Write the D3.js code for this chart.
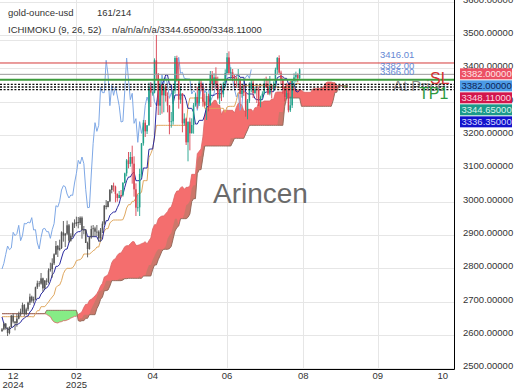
<!DOCTYPE html>
<html><head><meta charset="utf-8">
<script src="https://cdn.jsdelivr.net/npm/d3@7"></script>
<style>
html,body{margin:0;padding:0;background:#fff;}
svg{display:block;font-family:"Liberation Sans",Arial,sans-serif;}
</style></head><body>
<svg id="c" width="520" height="390"></svg>
<script>
// ---------------- DATA ----------------
const openP = [2612,2617,2634,2621,2606,2624,2658,2640,2636,2649,
2662,2670,2690,2663,2677,2697,2715,2703,2708,2743,
2755,2754,2770,2740,2763,2760,2794,2798,2815,2842,
2867,2856,2861,2908,2898,2904,2929,2883,2898,2935,
2933,2939,2936,2952,2915,2916,2876,2858,2893,2918,
2920,2910,2910,2890,2916,2934,2988,2984,3001,3035,
3048,3045,3023,3011,3020,3019,3056,3085,3124,3113,
3134,3114,3037,2982,2983,3083,3175,3237,3211,3229,
3343,3327,3327,3424,3381,3288,3349,3319,3345,3317,
3288,3239,3241,3333,3431,3366,3306,3325,3235,3249,
3178,3240,3205,3230,3289,3314,3295,3357,3342,3300,
3288,3317,3289,3381,3353,3373,3352,3310,3326,3322,
3355,3386,3433,3385,3388,3370,3369,3368,3368,3323,
3333,3327,3274,3303,3338,3357,3326,3337,3336,3301,
3313,3324,3355,3343,3324,3347,3338,3350,3396,3431,
3387,3368,3337,3314,3326,3274,3289,3363,3373,3380,
3370];
const highP = [2621,2638,2636,2623,2626,2660,2665,2642,2664,2670,
2679,2697,2693,2682,2700,2724,2718,2715,2745,2763,
2762,2786,2772,2765,2770,2800,2817,2830,2845,2882,
2870,2886,2911,2942,2906,2943,2933,2905,2938,2947,
2955,2954,2956,2956,2927,2918,2880,2895,2928,2930,
2925,2930,2914,2921,2941,2990,3005,3002,3038,3050,
3057,3048,3025,3032,3035,3059,3087,3128,3149,3149,
3168,3136,3055,3021,3099,3176,3245,3245,3230,3357,
3358,3331,3430,3500,3386,3367,3352,3351,3353,3328,
3290,3269,3335,3437,3438,3414,3345,3325,3265,3252,
3240,3252,3250,3296,3325,3345,3366,3365,3351,3325,
3330,3324,3392,3392,3385,3403,3375,3338,3349,3360,
3397,3446,3451,3403,3398,3380,3375,3398,3370,3348,
3350,3329,3308,3358,3365,3365,3345,3343,3346,3318,
3331,3369,3375,3366,3377,3353,3361,3402,3434,3439,
3393,3373,3345,3334,3334,3315,3363,3385,3390,3385,
3400];
const lowP = [2609,2614,2616,2597,2602,2622,2635,2614,2625,2647,
2656,2663,2656,2660,2672,2690,2697,2695,2705,2738,
2745,2751,2730,2738,2750,2755,2790,2772,2810,2840,
2834,2853,2858,2880,2864,2900,2876,2880,2893,2921,
2926,2920,2930,2889,2902,2876,2833,2856,2889,2894,
2896,2897,2880,2880,2906,2930,2977,2983,2999,3025,
3030,2998,3000,3010,3012,3015,3055,3076,3100,3105,
3054,3015,2957,2970,2957,3072,3168,3194,3203,3228,
3284,3318,3325,3366,3260,3260,3264,3268,3300,3268,
3202,3222,3231,3324,3360,3279,3294,3208,3228,3170,
3121,3154,3205,3204,3285,3279,3287,3331,3285,3285,
3245,3271,3289,3333,3345,3338,3306,3293,3302,3313,
3341,3384,3384,3366,3362,3347,3341,3347,3295,3312,
3317,3255,3247,3296,3328,3311,3322,3296,3287,3283,
3310,3322,3341,3320,3319,3310,3332,3344,3383,3381,
3351,3324,3301,3308,3268,3269,3281,3345,3358,3358,
3367];
const closeP = [2617,2634,2621,2606,2624,2658,2640,2636,2649,2662,
2670,2690,2663,2677,2697,2715,2703,2708,2743,2755,
2754,2770,2740,2763,2760,2794,2798,2815,2842,2867,
2856,2861,2908,2898,2904,2929,2883,2898,2935,2933,
2939,2936,2952,2915,2916,2876,2858,2893,2918,2920,
2910,2910,2890,2916,2934,2988,2984,3001,3035,3048,
3045,3023,3011,3020,3019,3056,3085,3124,3113,3134,
3114,3037,2982,2983,3083,3175,3237,3211,3229,3343,
3327,3327,3424,3381,3288,3349,3319,3345,3317,3288,
3239,3241,3333,3431,3366,3306,3325,3235,3249,3178,
3240,3205,3230,3289,3314,3295,3357,3342,3300,3288,
3317,3289,3381,3353,3373,3352,3310,3326,3322,3355,
3386,3433,3385,3388,3370,3369,3368,3368,3323,3333,
3327,3274,3303,3338,3357,3326,3337,3336,3301,3313,
3324,3355,3343,3324,3347,3338,3350,3396,3431,3387,
3368,3337,3314,3326,3274,3289,3363,3373,3380,3370,
3397];
// Ichimoku (9, 26, 52)
const tenkan = [2654,2634,2622,2618,2616,2622,2624,2631,2631,2634,
2638,2647,2650,2656,2657,2669,2675,2686,2701,2710,
2710,2723,2729,2738,2741,2748,2761,2780,2788,2806,
2806,2812,2831,2849,2857,2858,2877,2889,2889,2900,
2907,2910,2910,2916,2916,2916,2895,2895,2895,2895,
2895,2895,2882,2882,2887,2923,2943,2943,2959,2965,
2969,2969,2982,2994,3017,3021,3043,3063,3074,3074,
3084,3089,3063,3063,3063,3067,3101,3101,3101,3157,
3158,3158,3194,3286,3334,3347,3352,3364,3380,3380,
3351,3351,3294,3320,3320,3320,3320,3320,3320,3304,
3280,3280,3280,3268,3233,3233,3244,3244,3244,3260,
3285,3285,3319,3319,3319,3324,3324,3324,3324,3337,
3346,3370,3372,3372,3372,3372,3377,3382,3373,3373,
3373,3329,3323,3323,3323,3323,3309,3306,3306,3306,
3306,3326,3329,3329,3330,3330,3330,3343,3372,3375,
3375,3375,3370,3370,3354,3354,3354,3354,3331,3329,
3334];
const kijun = [2655,2655,2655,2655,2655,2655,2655,2655,2655,2655,
2655,2655,2655,2655,2655,2655,2655,2654,2664,2673,
2673,2685,2685,2685,2692,2699,2707,2714,2721,2742,
2748,2750,2763,2784,2795,2800,2800,2800,2802,2810,
2823,2825,2826,2831,2843,2843,2843,2843,2847,2853,
2856,2864,2864,2883,2895,2912,2919,2919,2936,2942,
2945,2945,2945,2945,2945,2946,2960,2981,2991,2991,
3001,3001,3012,3024,3024,3028,3063,3063,3063,3132,
3144,3158,3194,3229,3229,3229,3229,3229,3229,3229,
3229,3229,3229,3229,3229,3229,3229,3229,3229,3229,
3286,3311,3311,3311,3311,3311,3311,3311,3311,3280,
3280,3280,3280,3280,3280,3280,3280,3280,3280,3280,
3268,3284,3286,3286,3286,3286,3303,3328,3328,3348,
3348,3348,3348,3348,3348,3348,3349,3349,3349,3349,
3349,3349,3349,3349,3349,3349,3349,3349,3341,3343,
3343,3343,3343,3343,3343,3343,3343,3343,3354,3354,
3354];
// Senkou spans, already displaced 26 bars ahead (index 0 = first candle)
const spanA = [2664,2664,2664,2664,2664,2664,2664,2664,2664,2664,
2664,2664,2664,2664,2664,2664,2664,2664,2664,2664,
2664,2664,2664,2664,2662,2658,2655,2645,2639,2637,
2636,2639,2640,2643,2643,2645,2647,2651,2653,2656,
2656,2662,2665,2670,2683,2692,2692,2704,2707,2712,
2717,2724,2734,2747,2755,2774,2777,2781,2797,2817,
2826,2829,2839,2845,2846,2855,2865,2868,2868,2874,
2880,2880,2869,2869,2871,2874,2876,2880,2873,2883,
2891,2918,2931,2931,2948,2954,2957,2957,2964,2970,
2981,2984,3001,3022,3032,3032,3042,3045,3037,3043,
3043,3047,3082,3082,3082,3144,3151,3158,3194,3257,
3281,3288,3290,3296,3304,3304,3290,3290,3261,3274,
3274,3274,3274,3274,3274,3266,3283,3295,3295,3289,
3272,3272,3277,3277,3277,3270,3282,3282,3299,3299,
3299,3302,3302,3302,3302,3308,3307,3327,3329,3329,
3329,3329,3340,3355,3350,3361,3361,3339,3335,3335,
3335,3335,3329,3328,3328,3328,3328,3338,3339,3339,
3340,3340,3340,3346,3356,3359,3359,3359,3357,3357,
3348,3348,3348,3348,3342,3341,3344];
const spanB = [2664,2664,2664,2664,2664,2664,2664,2664,2664,2664,
2664,2664,2664,2664,2664,2664,2664,2664,2664,2664,
2664,2664,2664,2664,2674,2674,2674,2674,2674,2674,
2674,2674,2674,2674,2674,2674,2674,2674,2674,2674,
2674,2643,2641,2643,2643,2650,2650,2661,2661,2661,
2661,2679,2690,2707,2714,2733,2733,2735,2747,2763,
2763,2763,2763,2763,2763,2765,2769,2769,2770,2770,
2770,2770,2770,2770,2770,2770,2777,2777,2777,2777,
2777,2796,2810,2810,2826,2838,2852,2857,2857,2857,
2859,2866,2889,2912,2922,2927,2949,2949,2949,2949,
2953,2963,3000,3009,3009,3084,3096,3096,3132,3167,
3167,3167,3167,3167,3167,3167,3167,3167,3167,3167,
3167,3167,3167,3167,3178,3190,3190,3190,3190,3190,
3190,3203,3215,3229,3229,3229,3229,3229,3229,3229,
3229,3229,3229,3229,3229,3229,3229,3229,3229,3229,
3229,3229,3286,3311,3311,3311,3311,3311,3311,3311,
3311,3286,3286,3286,3286,3286,3286,3286,3286,3286,
3286,3286,3286,3286,3286,3286,3286,3286,3303,3328,
3328,3348,3348,3348,3348,3348,3348];
const chikouShift = 26;

// axis
const xTickIdx = [6, 40, 81, 121, 162, 202, 237];
const xTickMonth = ["12", "02", "04", "06", "08", "09", "10"];
const xTickYear = ["2024", "2025", "", "", "", "", ""];
const yTickValues = [2500, 2600, 2700, 2800, 2900, 3000, 3100, 3200, 3300, 3400, 3500, 3600];

// levels / labels
const levelValues = [3416.01, 3382.00, 3366.00];
const levelTexts = ["3416.01", "3382.00", "3366.00"];
const dottedLevels = [3352, 3344, 3336];
const boxValues = [3382.00, 3382.00, 3348.11, 3344.65, 3336.35];
const legendTitle = "gold-ounce-usd";
const legendCount = "161/214";
const legendInd = "ICHIMOKU (9, 26, 52)";
const legendVals = "n/a/n/a/n/a/3344.65000/3348.11000";

// ---------------- STYLE ----------------
const PL = 0, PR = 454, PT = 0, PB = 369;
const colUp = "#20a08a", colDown = "#d8404f", colGray = "#555555";
const colorFrom = 60;
const levelColors = ["#d43a3a", "#9a9a9a", "#3d9b3d"];
const levelWidths = [1, 1, 2];
const boxBg = ["#ec5064", "#4c9be6", "#d2164c", "#1c9a8a", "#1212cc"];
const boxFg = ["#ffe4e4", "#0d1f55", "#ffd6e0", "#d8f5ee", "#d6daff"];

const svg = d3.select("#c");
const x = d3.scaleLinear().domain([0, 243]).range([2, 454]);
const y = d3.scaleLinear().domain([2498, 3605]).range([PB, PT]);

svg.append("defs").append("clipPath").attr("id", "clip")
  .append("rect").attr("x", PL).attr("y", PT).attr("width", PR - PL).attr("height", PB - PT);

// grid
const grid = svg.append("g");
grid.selectAll("line.h").data(yTickValues).join("line")
  .attr("x1", PL).attr("x2", PR)
  .attr("y1", d => Math.round(y(d)) + 0.5).attr("y2", d => Math.round(y(d)) + 0.5)
  .attr("stroke", "#e6e6e6").attr("stroke-width", 1);
grid.selectAll("line.v").data(xTickIdx.slice(1, -1)).join("line")
  .attr("y1", PT).attr("y2", PB)
  .attr("x1", d => Math.round(x(d)) + 0.5).attr("x2", d => Math.round(x(d)) + 0.5)
  .attr("stroke", "#e6e6e6").attr("stroke-width", 1);
grid.append("line").attr("x1", PL).attr("x2", PR).attr("y1", 40.5).attr("y2", 40.5)
  .attr("stroke", "#e6e6e6");

// watermark
svg.append("text").attr("x", 213).attr("y", 203).attr("font-size", 28)
  .attr("fill", "#6a6a6a").text("Arincen");

const plot = svg.append("g").attr("clip-path", "url(#clip)");

// cloud
const N = spanA.length;
const cidx = d3.range(N);
plot.append("path").datum(cidx)
  .attr("d", d3.area().x(j => x(j)).y0(j => y(spanB[j])).y1(j => y(Math.max(spanA[j], spanB[j]))))
  .attr("fill", "#f46e6e");
plot.append("path").datum(cidx)
  .attr("d", d3.area().x(j => x(j)).y0(j => y(spanA[j])).y1(j => y(Math.max(spanA[j], spanB[j]))))
  .attr("fill", "#86ec86");
// muted shading on the rising parts of the cloud
plot.append("path").datum(cidx)
  .attr("d", d3.area().x(j => x(j)).y0(j => y(spanB[j])).y1(j => {
    const k = Math.min(j + 3, N - 1);
    if (spanA[j] <= spanB[j] || spanA[k] - spanA[j] < 8) return y(spanB[j]);
    return y(Math.min(spanA[j], spanB[k], spanB[j] + 40));
  }))
  .attr("fill", "rgba(120,140,100,0.32)");
plot.append("path").datum(cidx)
  .attr("d", d3.line().x(j => x(j)).y(j => y(spanA[j])))
  .attr("fill", "none").attr("stroke", "#dc6464").attr("stroke-width", 0.8);
plot.append("path").datum(cidx)
  .attr("d", d3.line().x(j => x(j)).y(j => y(spanB[j])))
  .attr("fill", "none").attr("stroke", "#8f6858").attr("stroke-width", 0.9);

// chikou
const chIdx = d3.range(chikouShift, closeP.length);
plot.append("path").datum(chIdx)
  .attr("d", d3.line().x(i => x(i - chikouShift)).y(i => y(closeP[i])))
  .attr("fill", "none").attr("stroke", "#7ea8e6").attr("stroke-width", 1);

const bIdx = d3.range(closeP.length);
// kijun
plot.append("path").datum(bIdx)
  .attr("d", d3.line().x(i => x(i)).y(i => y(kijun[i])))
  .attr("fill", "none").attr("stroke", "#e0a860").attr("stroke-width", 1);
// tenkan
plot.append("path").datum(bIdx)
  .attr("d", d3.line().x(i => x(i)).y(i => y(tenkan[i])))
  .attr("fill", "none").attr("stroke", "#2a2aa0").attr("stroke-width", 1);

// candles
const cc = i => i < colorFrom ? colGray : (closeP[i] >= openP[i] ? colUp : colDown);
plot.selectAll("line.wick").data(bIdx).join("line")
  .attr("x1", i => x(i)).attr("x2", i => x(i))
  .attr("y1", i => y(highP[i])).attr("y2", i => y(lowP[i]))
  .attr("stroke", cc).attr("stroke-width", 0.9);
plot.selectAll("rect.body").data(bIdx).join("rect")
  .attr("x", i => x(i) - 0.75).attr("width", 1.5)
  .attr("y", i => y(Math.max(openP[i], closeP[i])))
  .attr("height", i => Math.max(0.8, Math.abs(y(openP[i]) - y(closeP[i]))))
  .attr("fill", cc);

// level lines
svg.append("text").attr("x", 393).attr("y", 91).attr("font-size", 15)
  .attr("fill", "#8a8a8a").text("At Price");
svg.selectAll("line.lvl").data(levelValues).join("line")
  .attr("x1", PL).attr("x2", PR)
  .attr("y1", d => y(d)).attr("y2", d => y(d))
  .attr("stroke", (d, i) => levelColors[i]).attr("stroke-width", (d, i) => levelWidths[i]);
svg.selectAll("line.dot").data(dottedLevels).join("line")
  .attr("x1", PL).attr("x2", PR)
  .attr("y1", d => y(d)).attr("y2", d => y(d))
  .attr("stroke", "#111").attr("stroke-width", 1.4).attr("stroke-dasharray", "2,1.6");
svg.selectAll("text.lvl").data(levelValues).join("text")
  .attr("x", 380).attr("y", d => y(d) - 5).attr("font-size", 9.5)
  .attr("fill", "#6688d4").text((d, i) => levelTexts[i]);
svg.append("text").attr("x", 430).attr("y", 84).attr("font-size", 16)
  .attr("fill", "#d43030").text("SL");
svg.append("text").attr("x", 419).attr("y", 98.5).attr("font-size", 16)
  .attr("fill", "#2f9a3f").text("TP1");

// frame
svg.append("line").attr("x1", PL).attr("x2", PR + 0.5).attr("y1", PB + 0.5).attr("y2", PB + 0.5)
  .attr("stroke", "#000").attr("stroke-width", 1);
svg.append("line").attr("x1", PR + 0.5).attr("x2", PR + 0.5).attr("y1", PT).attr("y2", PB + 0.5)
  .attr("stroke", "#000").attr("stroke-width", 1);

// axes labels
svg.selectAll("text.yl").data(yTickValues).join("text")
  .attr("x", 463).attr("y", d => y(d) + 1).attr("font-size", 9.5).attr("fill", "#333")
  .text(d => d.toFixed(5));
svg.selectAll("text.xm").data(xTickIdx).join("text")
  .attr("x", d => x(d)).attr("y", 378.5).attr("text-anchor", "middle")
  .attr("font-size", 9.5).attr("fill", "#333").text((d, i) => xTickMonth[i]);
svg.selectAll("text.xy").data(xTickIdx).join("text")
  .attr("x", d => x(d)).attr("y", 387.5).attr("text-anchor", "middle")
  .attr("font-size", 9.5).attr("fill", "#333").text((d, i) => xTickYear[i]);

// value boxes (stacked to avoid overlap)
let prevBottom = -Infinity;
const boxes = boxValues.map((v, i) => {
  const top = Math.max(y(v) - 6, prevBottom + 1);
  prevBottom = top + 11;
  return { v, i, top };
});
const bg = svg.append("g");
bg.selectAll("rect").data(boxes).join("rect")
  .attr("x", 460).attr("y", d => d.top).attr("width", 52).attr("height", 11)
  .attr("fill", d => boxBg[d.i]);
bg.selectAll("text").data(boxes).join("text")
  .attr("x", 461.5).attr("y", d => d.top + 9).attr("font-size", 9.5)
  .attr("fill", d => boxFg[d.i]).text(d => d.v.toFixed(5));

// legend
svg.append("text").attr("x", 8).attr("y", 16).attr("font-size", 9.5).attr("fill", "#333").text(legendTitle);
svg.append("text").attr("x", 97).attr("y", 16).attr("font-size", 9.5).attr("fill", "#333").text(legendCount);
svg.append("text").attr("x", 8).attr("y", 33).attr("font-size", 9.5).attr("fill", "#333").text(legendInd);
svg.append("text").attr("x", 112).attr("y", 33).attr("font-size", 9.5).attr("fill", "#333").text(legendVals);
</script>
</body></html>
